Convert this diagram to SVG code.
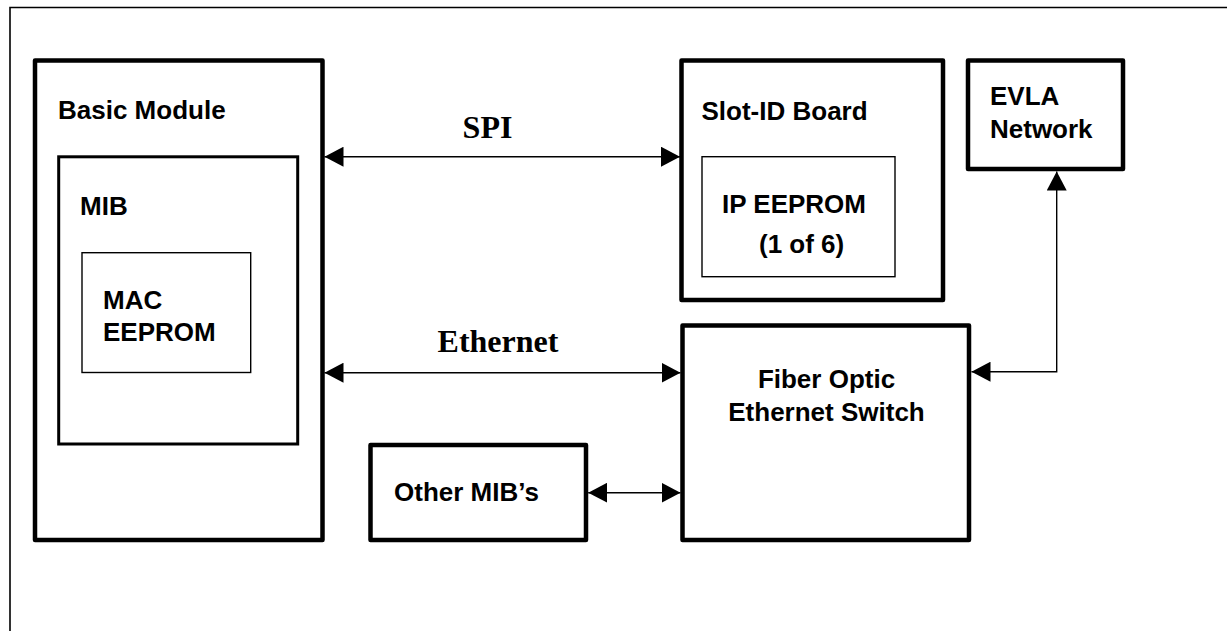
<svg xmlns="http://www.w3.org/2000/svg" width="1227" height="631" viewBox="0 0 1227 631">
<defs>
<marker id="ah" markerUnits="userSpaceOnUse" markerWidth="20" markerHeight="20" viewBox="0 0 20 20" refX="19" refY="10" orient="auto-start-reverse">
<path d="M0,0 L19,10 L0,20 Z" fill="#000"/>
</marker>
<style>
.thick{fill:none;stroke:#000;stroke-width:4.5;stroke-linejoin:round}
.mid{fill:none;stroke:#000;stroke-width:3}
.thin{fill:none;stroke:#000;stroke-width:1.4}
.lbl{font-family:"Liberation Sans",Arial,sans-serif;font-weight:bold;font-size:26px;fill:#000}
.ser{font-family:"Liberation Serif","Times New Roman",serif;font-weight:bold;font-size:32px;fill:#000}
.conn{fill:none;stroke:#000;stroke-width:1.4}
</style>
</defs>
<rect x="0" y="0" width="1227" height="631" fill="#fff"/>
<path d="M10,632 L10,7.5 L1228,7.5" fill="none" stroke="#000" stroke-width="1.6"/>

<g id="basic-module">
<rect class="thick" x="35" y="60.5" width="287.5" height="479.5"/>
<text class="lbl" x="58" y="119">Basic Module</text>
</g>
<g id="mib">
<rect class="mid" x="58.7" y="156.8" width="239" height="287.2"/>
<text class="lbl" x="80" y="215">MIB</text>
</g>
<g id="mac-eeprom">
<rect class="thin" x="82" y="252.7" width="168.7" height="119.8"/>
<text class="lbl" x="103" y="309">MAC</text>
<text class="lbl" x="103" y="341">EEPROM</text>
</g>
<g id="slot-id-board">
<rect class="thick" x="681.5" y="60.5" width="261.5" height="239.5"/>
<text class="lbl" x="701.5" y="120">Slot-ID Board</text>
</g>
<g id="ip-eeprom">
<rect class="thin" x="702" y="156.7" width="193" height="120"/>
<text class="lbl" x="722" y="213">IP EEPROM</text>
<text class="lbl" x="759" y="253">(1 of 6)</text>
</g>
<g id="evla-network">
<rect class="thick" x="968" y="60.5" width="155" height="108.5"/>
<text class="lbl" x="990" y="105">EVLA</text>
<text class="lbl" x="990" y="137.5">Network</text>
</g>
<g id="fiber-switch">
<rect class="thick" x="682.5" y="325.5" width="286.5" height="214.5"/>
<text class="lbl" x="826.5" y="388" text-anchor="middle">Fiber Optic</text>
<text class="lbl" x="826.5" y="421" text-anchor="middle">Ethernet Switch</text>
</g>
<g id="other-mibs">
<rect class="thick" x="370.5" y="445" width="215.5" height="95"/>
<text class="lbl" x="394" y="500.5">Other MIB’s</text>
</g>

<g id="connectors">
<line class="conn" x1="324.5" y1="156.7" x2="680" y2="156.7" marker-start="url(#ah)" marker-end="url(#ah)"/>
<text class="ser" x="487.5" y="138" text-anchor="middle">SPI</text>
<line class="conn" x1="324.5" y1="372.7" x2="680.5" y2="372.7" marker-start="url(#ah)" marker-end="url(#ah)"/>
<text class="ser" x="498" y="352" text-anchor="middle">Ethernet</text>
<line class="conn" x1="588.2" y1="492.7" x2="680.5" y2="492.7" marker-start="url(#ah)" marker-end="url(#ah)"/>
<path class="conn" d="M971.5,371.7 L1056.7,371.7 L1056.7,171.5" marker-start="url(#ah)" marker-end="url(#ah)"/>
</g>
</svg>
